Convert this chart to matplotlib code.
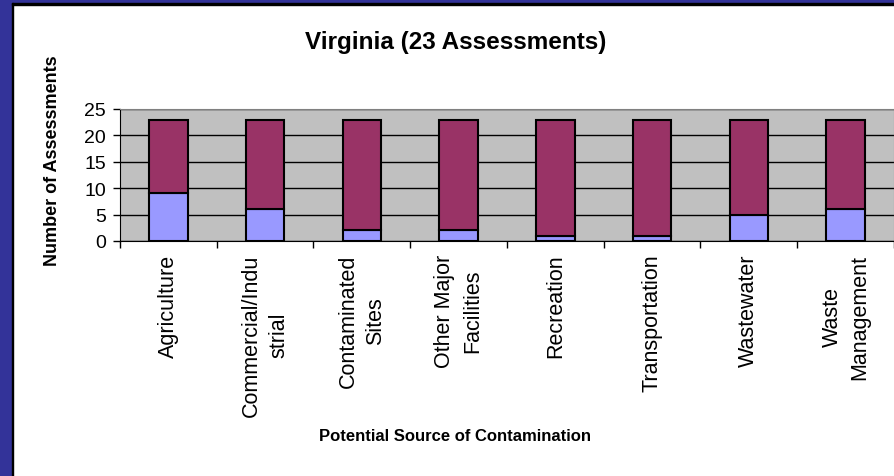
import matplotlib
matplotlib.use("Agg")
import matplotlib.pyplot as plt
from matplotlib.patches import Rectangle

plt.rcParams['font.family'] = ['Liberation Sans', 'DejaVu Sans']

categories = ["Agriculture", "Commercial/Indu\nstrial", "Contaminated\nSites",
              "Other Major\nFacilities", "Recreation", "Transportation",
              "Wastewater", "Waste\nManagement"]
lower = [9, 6, 2, 2, 1, 1, 5, 6]
total = [23, 23, 23, 23, 23, 23, 23, 23]
upper = [t - l for t, l in zip(total, lower)]

W, H = 895, 477
fig = plt.figure(figsize=(W / 100, H / 100), dpi=100)

# navy frame on left and top
fig.add_artist(Rectangle((0, 0), 12 / W, 1, transform=fig.transFigure, color='#333399', zorder=0))
fig.add_artist(Rectangle((0, 1 - 4 / H), 1, 4 / H, transform=fig.transFigure, color='#333399', zorder=0))
fig.add_artist(Rectangle((12 / W, 0), 1.5 / W, 1 - 4 / H, transform=fig.transFigure, color='black', zorder=1))
fig.add_artist(Rectangle((12 / W, 1 - 5.5 / H), 1 - 12 / W, 1.5 / H, transform=fig.transFigure, color='black', zorder=1))

ax = fig.add_axes([120 / W, (H - 242) / H, 774 / W, 132 / H])
ax.set_facecolor('#C0C0C0')

x = range(len(categories))
ax.bar(x, lower, width=0.4, color='#9999FF', edgecolor='black', linewidth=1.5, zorder=3)
ax.bar(x, upper, bottom=lower, width=0.4, color='#993366', edgecolor='black', linewidth=1.5, zorder=3)

ax.set_xlim(-0.5, len(categories) - 0.5)
ax.set_ylim(0, 25)
ax.set_yticks([0, 5, 10, 15, 20, 25])
ax.yaxis.grid(True, color='black', linewidth=1, zorder=1)
ax.set_axisbelow(True)

ax.set_xticks([i - 0.5 for i in range(len(categories) + 1)])
ax.set_xticklabels([])
ax.set_xticks(list(x), minor=True)
ax.set_xticklabels(categories, minor=True, rotation=90, fontsize=15.5, va='top', ha='center',
                   multialignment='center', linespacing=1.4)
ax.tick_params(axis='x', which='minor', length=0, pad=9)
ax.tick_params(axis='x', which='major', length=5, direction='out', width=1)
ax.tick_params(axis='y', length=5, direction='out', width=1, labelsize=14, pad=5)

for side in ['top', 'right']:
    ax.spines[side].set_color('#808080')
ax.spines['left'].set_color('black')
ax.spines['bottom'].set_color('black')

fig.text(456 / W, 1 - 42 / H, "Virginia (23 Assessments)", fontsize=17.5, fontweight='bold',
         ha='center', va='center')
fig.text(53 / W, 1 - 161 / H, "Number of Assessments", fontsize=13, fontweight='bold',
         rotation=90, ha='center', va='center')
fig.text(455 / W, 1 - 437 / H, "Potential Source of Contamination", fontsize=12,
         fontweight='bold', ha='center', va='center')

fig.savefig("out.png", dpi=100)
